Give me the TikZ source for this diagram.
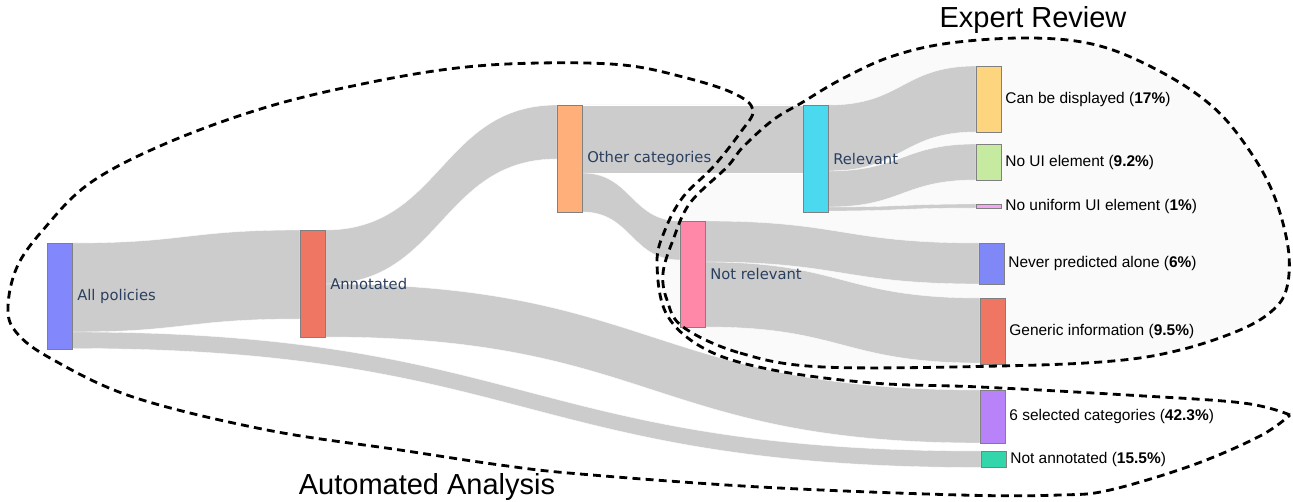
\documentclass[tikz,border=0pt]{standalone}
\usepackage{fontspec}
\setmainfont{Liberation Sans}
\newfontfamily\plotlyfont{DejaVu Sans}
\usetikzlibrary{positioning, calc, backgrounds}
\definecolor{flowgray}{HTML}{CCCCCC}
\definecolor{plotlyblue}{HTML}{2A3F5F}
\definecolor{cAll}{HTML}{8288FB}
\definecolor{cAnnot}{HTML}{EF7662}
\definecolor{cOther}{HTML}{FFB07A}
\definecolor{cNotRel}{HTML}{FF88A8}
\definecolor{cRel}{HTML}{4BD9F0}
\definecolor{cDisp}{HTML}{FED57F}
\definecolor{cNoUI}{HTML}{C6EBA0}
\definecolor{cNoUnif}{HTML}{F4A6F2}
\definecolor{cNever}{HTML}{8088F7}
\definecolor{cGeneric}{HTML}{EF7662}
\definecolor{cSel}{HTML}{B882F8}
\definecolor{cNotAnn}{HTML}{33D6AA}
\tikzset{
    x=0.02cm, y=-0.02cm, % one unit = one pixel of the plot
    bar/.style={draw=black!50, line width=0.3pt, inner sep=0pt, anchor=north west, minimum width=0.5cm},
    flow/.style={fill=flowgray, draw=white, line width=0.2pt},
    midlabel/.style={font=\plotlyfont\fontsize{8.4}{10}\selectfont, text=plotlyblue, inner sep=0pt},
    endlabel/.style={font=\fontsize{8.8}{10}\selectfont, inner sep=0pt},
    region/.style={line width=1.6pt, dash pattern=on 4.5pt off 3pt},
    regiontitle/.style={font=\fontsize{16.5}{19}\selectfont, inner sep=0pt},
}
% name, x, y, height, colour
\newcommand{\sankeynode}[5]{\node[bar, fill=#5, minimum height=#4*0.02cm] (#1) at (#2,#3) {};}
% source, offset, target, offset, thickness
\newcommand{\sankeyflow}[5]{%
  \fill[flow] let \p1=($(#1.north east)+(0,#2)$), \p2=($(#3.north west)+(0,#4)$),
      \p3=($(\p1)+(0,#5)$), \p4=($(\p2)+(0,#5)$), \p5=($(\p1)!0.5!(\p2)$) in
      (\p1) .. controls (\x5,\y1) and (\x5,\y2) .. (\p2) -- (\p4)
      .. controls (\x5,\y4) and (\x5,\y3) .. (\p3) -- cycle;}

\begin{document}
\begin{tikzpicture}
    \useasboundingbox (0,0) rectangle (1293,502);

    % nodes
    \sankeynode{allp}{47}{243}{106}{cAll}
    \sankeynode{annot}{300}{230}{107}{cAnnot}
    \sankeynode{other}{557}{105}{107}{cOther}
    \sankeynode{notrel}{680}{221}{106}{cNotRel}
    \sankeynode{relev}{803}{105}{107}{cRel}
    \sankeynode{disp}{976}{66}{66}{cDisp}
    \sankeynode{noui}{976}{144}{36}{cNoUI}
    \sankeynode{nounif}{976}{204}{4}{cNoUnif}
    \sankeynode{never}{979}{243}{41}{cNever}
    \sankeynode{generic}{980}{298}{66}{cGeneric}
    \sankeynode{sel}{980}{390}{53}{cSel}
    \sankeynode{notann}{981}{451}{16}{cNotAnn}

    \node[midlabel, right=2.5pt of allp] {All policies};
    \node[midlabel, right=2.5pt of annot] {Annotated};
    \node[midlabel, right=2.5pt of other] {Other categories};
    \node[midlabel, right=2.5pt of notrel] {Not relevant};
    \node[midlabel, right=2.5pt of relev] {Relevant};

    \node[endlabel, right=2pt of disp] {Can be displayed (\textbf{17\%})};
    \node[endlabel, right=2pt of noui] {No UI element (\textbf{9.2\%})};
    \node[endlabel, right=2pt of nounif] {No uniform UI element (\textbf{1\%})};
    \node[endlabel, right=2pt of never] {Never predicted alone (\textbf{6\%})};
    \node[endlabel, right=2pt of generic] {Generic information (\textbf{9.5\%})};
    \node[endlabel, right=2pt of sel] {6 selected categories (\textbf{42.3\%})};
    \node[endlabel, right=2pt of notann] {Not annotated (\textbf{15.5\%})};

    % flows
    \begin{scope}[on background layer]
        \fill[black!2] plot[smooth cycle, tension=0.6] coordinates {(683,327) (740,353) (823,367) (1000,366) (1113,361) (1180,350) (1240,330) (1273,310) (1287,287) (1288,247) (1273,193) (1247,147) (1213,107) (1163,73) (1100,46) (1033,38) (950,43) (890,57) (840,80) (803,102) (773,120) (743,147) (727,167) (690,203) (673,240) (663,273) (667,300)};
        \sankeyflow{allp}{0}{annot}{0}{89}
        \sankeyflow{allp}{89}{notann}{0}{16.5}
        \sankeyflow{annot}{0}{other}{0}{54}
        \sankeyflow{annot}{54}{sel}{0}{53}
        \sankeyflow{other}{0}{relev}{0}{68}
        \sankeyflow{other}{68}{notrel}{0}{39}
        \sankeyflow{relev}{0}{disp}{0}{66}
        \sankeyflow{relev}{66}{noui}{0}{36}
        \sankeyflow{relev}{102}{nounif}{0}{4}
        \sankeyflow{notrel}{0}{never}{0}{41}
        \sankeyflow{notrel}{41}{generic}{0}{65}
    \end{scope}

    % regions
    \draw[region] plot[smooth cycle, tension=0.6] coordinates {(683,327) (740,353) (823,367) (1000,366) (1113,361) (1180,350) (1240,330) (1273,310) (1287,287) (1288,247) (1273,193) (1247,147) (1213,107) (1163,73) (1100,46) (1033,38) (950,43) (890,57) (840,80) (803,102) (773,120) (743,147) (727,167) (690,203) (673,240) (663,273) (667,300)};
    \draw[region] plot[smooth, tension=0.6] coordinates {(1290,415) (1243,403) (1127,395) (980,387) (873,383) (773,370) (707,350) (667,315) (657,263) (665,230) (683,197) (713,167) (740,133) (753,110) (733,93) (683,77) (623,65) (540,63) (457,68) (367,83) (267,107) (167,143) (90,183) (43,230) (17,267) (8,307) (16,332) (50,358) (133,397) (267,430) (400,450) (500,465) (580,474) (760,487) (960,495) (1060,495) (1110,490) (1193,465) (1260,436) (1290,415)};

    \node[regiontitle] (experttitle) at (1033,20) {Expert Review};
    \node[regiontitle] (autotitle) at (427,487) {Automated Analysis};
\end{tikzpicture}
\end{document}
